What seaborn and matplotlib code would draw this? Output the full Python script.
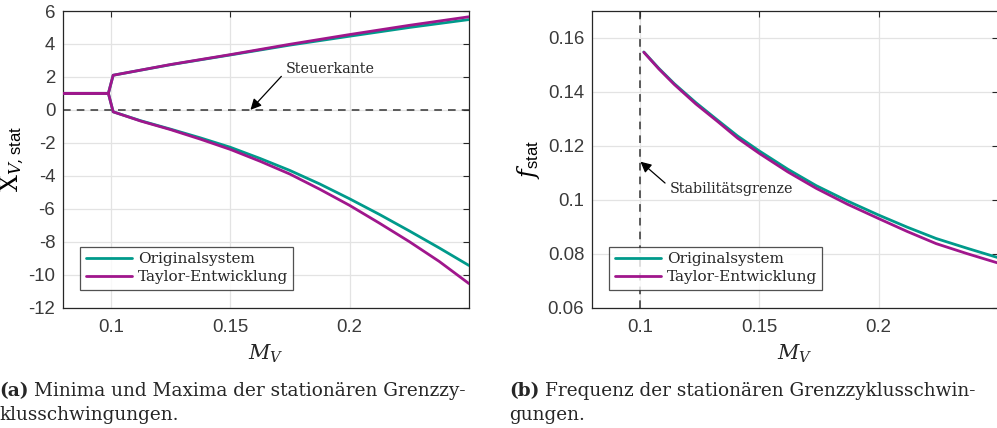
import matplotlib
matplotlib.use("Agg")
import matplotlib.pyplot as plt
import seaborn as sns
import pandas as pd

# ---- data -----------------------------------------------------------------
# (a) upper / lower extrema of the stationary limit cycle over M_V
m_max = [0.08, 0.099, 0.101, 0.125, 0.15, 0.175, 0.20, 0.225, 0.25]
orig_max = [1.0, 1.0, 2.1, 2.74, 3.33, 3.93, 4.47, 5.00, 5.48]
taylor_max = [1.0, 1.0, 2.1, 2.75, 3.35, 3.98, 4.57, 5.13, 5.65]

m_min = [0.08, 0.099, 0.101, 0.1125, 0.125, 0.1375, 0.15, 0.1625, 0.175,
         0.1875, 0.20, 0.2125, 0.225, 0.2375, 0.25]
orig_min = [1.0, 1.0, -0.12, -0.66, -1.17, -1.70, -2.27, -2.95, -3.68,
            -4.50, -5.40, -6.35, -7.35, -8.38, -9.45]
taylor_min = [1.0, 1.0, -0.12, -0.68, -1.20, -1.78, -2.40, -3.12, -3.90,
              -4.82, -5.80, -6.88, -8.00, -9.20, -10.55]

# (b) frequency of the stationary limit cycle over M_V
m_freq = [0.1017, 0.108, 0.1145, 0.1235, 0.1326, 0.141, 0.15, 0.162,
          0.1739, 0.187, 0.20, 0.212, 0.2241, 0.237, 0.25]
orig_freq = [0.1548, 0.1487, 0.1430, 0.1360, 0.1295, 0.1236, 0.1181, 0.1113,
             0.1052, 0.0995, 0.0943, 0.0898, 0.0856, 0.0820, 0.0785]
taylor_freq = [0.1547, 0.1485, 0.1427, 0.1355, 0.1290, 0.1228, 0.1172, 0.1103,
               0.1042, 0.0983, 0.0930, 0.0882, 0.0837, 0.0800, 0.0765]

systems = ["Originalsystem", "Taylor-Entwicklung"]
colors = {"Originalsystem": "#009a8b", "Taylor-Entwicklung": "#a0168c"}

xticks = [0.1, 0.15, 0.2]
xticklabels = ["0.1", "0.15", "0.2"]
yticks_a = [6, 4, 2, 0, -2, -4, -6, -8, -10, -12]
yticks_b = [0.06, 0.08, 0.1, 0.12, 0.14, 0.16]
yticklabels_b = ["0.06", "0.08", "0.1", "0.12", "0.14", "0.16"]

captions = [
    ("(a)", "Minima und Maxima der stationären Grenzzy-", "klusschwingungen."),
    ("(b)", "Frequenz der stationären Grenzzyklusschwin-", "gungen."),
]

# ---- tables ---------------------------------------------------------------
rows = []
for sysname, mx, mn in [("Originalsystem", orig_max, orig_min),
                        ("Taylor-Entwicklung", taylor_max, taylor_min)]:
    for m, v in zip(m_max, mx):
        rows.append((sysname, "max", m, v))
    for m, v in zip(m_min, mn):
        rows.append((sysname, "min", m, v))
df_a = pd.DataFrame(rows, columns=["system", "branch", "M", "X"])

df_b = pd.DataFrame({
    "system": ["Originalsystem"] * len(m_freq) + ["Taylor-Entwicklung"] * len(m_freq),
    "M": m_freq + m_freq,
    "f": orig_freq + taylor_freq,
})

# ---- style ----------------------------------------------------------------
sns.set_theme(style="white")
plt.rcParams["font.family"] = ["Liberation Sans", "DejaVu Sans"]
plt.rcParams["axes.unicode_minus"] = False
plt.rcParams["mathtext.fontset"] = "custom"
plt.rcParams["mathtext.rm"] = "DejaVu Serif"
plt.rcParams["mathtext.it"] = "DejaVu Serif:italic"
plt.rcParams["mathtext.sf"] = "Liberation Sans"

SERIF = ["DejaVu Serif"]
EDGE = "#262626"
TICKTXT = "#3a3a3a"
GRID = "#e3e3e3"

fig = plt.figure(figsize=(9.97, 4.28), dpi=100)
ax_a = fig.add_axes([63 / 997, 1 - 307.5 / 428, 406 / 997, 296.5 / 428])
ax_b = fig.add_axes([592 / 997, 1 - 307.5 / 428, 406 / 997, 296.5 / 428])


def style_axes(ax):
    ax.grid(True, color=GRID, lw=0.9)
    ax.set_axisbelow(True)
    for sp in ax.spines.values():
        sp.set_color(EDGE)
        sp.set_linewidth(0.9)
        sp.set_visible(True)
    ax.tick_params(direction="in", length=4, width=0.8, color=EDGE,
                   top=True, right=True, labelsize=13.4, labelcolor=TICKTXT)
    ax.tick_params(axis="x", pad=8)
    ax.tick_params(axis="y", pad=5.5)


# ---- (a) extrema ----------------------------------------------------------
ax_a.axhline(0, color="#333333", lw=1.1, ls=(0, (5, 4)), zorder=2)
for sysname in systems:
    for branch in ["max", "min"]:
        sub = df_a[(df_a.system == sysname) & (df_a.branch == branch)]
        sns.lineplot(data=sub, x="M", y="X", ax=ax_a, color=colors[sysname],
                     lw=2.0, sort=False, estimator=None,
                     label=sysname if branch == "max" else None,
                     legend=False, zorder=3)
ax_a.set_xlim(0.08, 0.25)
ax_a.set_ylim(-12, 6)
ax_a.set_xticks(xticks)
ax_a.set_xticklabels(xticklabels)
ax_a.set_yticks(yticks_a)
ax_a.set_yticklabels([str(t) for t in yticks_a])
style_axes(ax_a)
ax_a.set_xlabel(r"$M_V$", fontsize=15, color=EDGE, labelpad=5)
ax_a.set_ylabel(r"$\mathrm{X}_{V,\mathsf{stat}}$", fontsize=17, color="black", labelpad=2)
ax_a.annotate("Steuerkante", xy=(0.1585, 0.0), xytext=(0.1732, 2.48),
              fontsize=10.3, family=SERIF, va="center", ha="left",
              arrowprops=dict(arrowstyle="-|>", color="black", lw=0.9,
                              mutation_scale=16, shrinkA=1, shrinkB=0,
                              relpos=(0, 0.3)))
h, l = ax_a.get_legend_handles_labels()
leg = ax_a.legend(h[:2], l[:2], loc="lower left", bbox_to_anchor=(0.024, 0.034),
                  prop=dict(family=SERIF, size=11), frameon=True, fancybox=False,
                  borderpad=0.35, handlelength=3.0, handletextpad=0.4, labelspacing=0.3)
leg.get_frame().set_edgecolor(EDGE)
leg.get_frame().set_linewidth(0.9)

# ---- (b) frequency --------------------------------------------------------
ax_b.axvline(0.1, color="#333333", lw=1.1, ls=(0, (5, 4)), zorder=2)
sns.lineplot(data=df_b, x="M", y="f", hue="system", palette=colors,
             hue_order=systems, ax=ax_b, lw=2.0, legend=False, zorder=3)
ax_b.set_xlim(0.08, 0.25)
ax_b.set_ylim(0.06, 0.17)
ax_b.set_xticks(xticks)
ax_b.set_xticklabels(xticklabels)
ax_b.set_yticks(yticks_b)
ax_b.set_yticklabels(yticklabels_b)
style_axes(ax_b)
ax_b.set_xlabel(r"$M_V$", fontsize=15, color=EDGE, labelpad=5)
ax_b.set_ylabel(r"$f_{\mathsf{stat}}$", fontsize=17, color="black", labelpad=4)
ax_b.annotate("Stabilitätsgrenze", xy=(0.1003, 0.1141), xytext=(0.1124, 0.1040),
              fontsize=10.3, family=SERIF, va="center", ha="left",
              arrowprops=dict(arrowstyle="-|>", color="black", lw=0.9,
                              mutation_scale=16, shrinkA=1, shrinkB=0,
                              relpos=(0, 0.65)))
leg_handles = [plt.Line2D([], [], color=colors[s], lw=2.0) for s in systems]
leg = ax_b.legend(leg_handles, systems, loc="lower left", bbox_to_anchor=(0.024, 0.034),
                  prop=dict(family=SERIF, size=11), frameon=True, fancybox=False,
                  borderpad=0.35, handlelength=3.0, handletextpad=0.4, labelspacing=0.3)
leg.get_frame().set_edgecolor(EDGE)
leg.get_frame().set_linewidth(0.9)

# ---- captions -------------------------------------------------------------
for (tag, line1, line2), x0 in zip(captions, [-1 / 997, 509 / 997]):
    t = fig.text(x0, 1 - 396.5 / 428, tag, family=SERIF, fontsize=13.3,
                 weight="bold", va="baseline", ha="left")
    ax_a.annotate(line1, xy=(1, 0), xycoords=t, xytext=(4, 0),
                  textcoords="offset points", family=SERIF, fontsize=13.3,
                  va="bottom", ha="left", annotation_clip=False)
    fig.text(x0, 1 - 420 / 428, line2, family=SERIF, fontsize=13.3,
             va="baseline", ha="left")

fig.savefig("out.png", dpi=100)
